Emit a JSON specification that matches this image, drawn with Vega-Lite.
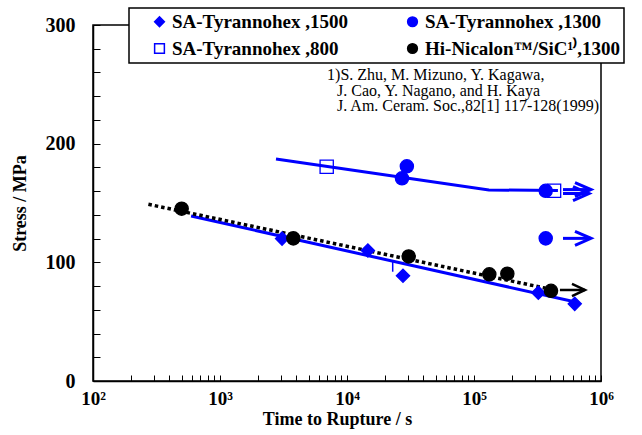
{
  "$schema": "https://vega.github.io/schema/vega-lite/v6.json",
  "width": 508,
  "height": 356,
  "autosize": {"type": "none"},
  "padding": {"left": 93, "top": 25, "right": 41, "bottom": 54},
  "background": "white",
  "config": {
    "font": "Liberation Serif",
    "view": {"stroke": "black", "strokeWidth": 1.5},
    "axis": {
      "grid": false,
      "tickColor": "black",
      "tickWidth": 1,
      "domainColor": "black",
      "domainWidth": 1.5,
      "labelFont": "Liberation Serif",
      "labelFontWeight": "bold",
      "labelColor": "black",
      "titleFont": "Liberation Serif",
      "titleFontWeight": "bold",
      "titleColor": "black",
      "labelBound": false,
      "labelFlush": false,
      "labelOverlap": false
    },
    "legend": {
      "strokeColor": "black",
      "strokeWidth": 1.5,
      "fillColor": "white",
      "padding": 4,
      "labelFont": "Liberation Serif",
      "labelFontWeight": "bold",
      "labelFontSize": 19,
      "labelColor": "black",
      "labelLimit": 400
    }
  },
  "datasets": {
    "pts": [
      {"series": "SA-Tyrannohex ,1500", "t": 3080, "s": 120},
      {"series": "SA-Tyrannohex ,1500", "t": 14600, "s": 110},
      {"series": "SA-Tyrannohex ,1500", "t": 27600, "s": 88.7},
      {"series": "SA-Tyrannohex ,1500", "t": 321000, "s": 74.4},
      {"series": "SA-Tyrannohex ,1500", "t": 621000, "s": 65},
      {"series": "SA-Tyrannohex ,1300", "t": 29600, "s": 180.9},
      {"series": "SA-Tyrannohex ,1300", "t": 27100, "s": 170.8},
      {"series": "SA-Tyrannohex ,1300", "t": 367000, "s": 160.3},
      {"series": "SA-Tyrannohex ,1300", "t": 367000, "s": 120.2},
      {"series": "SA-Tyrannohex ,800", "t": 6920, "s": 180.5},
      {"series": "SA-Tyrannohex ,800", "t": 427000, "s": 160.3},
      {"series": "Hi-Nicalon™/SiC¹⁾,1300", "t": 499, "s": 145.2},
      {"series": "Hi-Nicalon™/SiC¹⁾,1300", "t": 3780, "s": 120.2},
      {"series": "Hi-Nicalon™/SiC¹⁾,1300", "t": 30600, "s": 105},
      {"series": "Hi-Nicalon™/SiC¹⁾,1300", "t": 132000, "s": 89.9},
      {"series": "Hi-Nicalon™/SiC¹⁾,1300", "t": 183000, "s": 90.4},
      {"series": "Hi-Nicalon™/SiC¹⁾,1300", "t": 404000, "s": 76}
    ],
    "blueLines": [
      {"line": "fit1500", "t": 592, "s": 139},
      {"line": "fit1500", "t": 644000, "s": 66.3},
      {"line": "fit1300", "t": 2760, "s": 187},
      {"line": "fit1300", "t": 131000, "s": 161},
      {"line": "fit1300", "t": 458000, "s": 160.5}
    ],
    "dotLine": [
      {"t": 273, "s": 148.9},
      {"t": 362000, "s": 78.3}
    ],
    "blueArrows": [
      {"part": "a1s", "k": 1, "t": 502000, "s": 161.3},
      {"part": "a1s", "k": 2, "t": 834000, "s": 161.3},
      {"part": "a1h", "k": 1, "t": 624000, "s": 167.2},
      {"part": "a1h", "k": 2, "t": 834000, "s": 161.3},
      {"part": "a1h", "k": 3, "t": 624000, "s": 155.4},
      {"part": "a2s", "k": 1, "t": 502000, "s": 158.0},
      {"part": "a2s", "k": 2, "t": 805000, "s": 158.0},
      {"part": "a2h", "k": 1, "t": 602000, "s": 163.9},
      {"part": "a2h", "k": 2, "t": 805000, "s": 158.0},
      {"part": "a2h", "k": 3, "t": 602000, "s": 152.1},
      {"part": "a3s", "k": 1, "t": 502000, "s": 120.2},
      {"part": "a3s", "k": 2, "t": 834000, "s": 120.2},
      {"part": "a3h", "k": 1, "t": 624000, "s": 126.1},
      {"part": "a3h", "k": 2, "t": 834000, "s": 120.2},
      {"part": "a3h", "k": 3, "t": 624000, "s": 114.3}
    ],
    "blackArrow": [
      {"part": "b1s", "k": 1, "t": 475000, "s": 76.7},
      {"part": "b1s", "k": 2, "t": 748000, "s": 76.7},
      {"part": "b1h", "k": 1, "t": 591000, "s": 81.8},
      {"part": "b1h", "k": 2, "t": 748000, "s": 76.7},
      {"part": "b1h", "k": 3, "t": 591000, "s": 71.6}
    ],
    "tick": [
      {"t": 22900, "s": 101.9, "s2": 92.1}
    ],
    "notes": [
      {"t": 6970, "s": 257.8, "txt": "1)S. Zhu, M. Mizuno, Y. Kagawa,"},
      {"t": 8340, "s": 244.8, "txt": "J. Cao, Y. Nagano, and H. Kaya"},
      {"t": 8340, "s": 231.8, "txt": "J. Am. Ceram. Soc.,82[1] 117-128(1999)"}
    ]
  },
  "encoding": {
    "x": {
      "field": "t",
      "type": "quantitative",
      "scale": {"type": "log", "domain": [100, 1000000]},
      "axis": {
        "title": "Time to Rupture  / s",
        "values": [100, 200, 300, 400, 500, 600, 700, 800, 900, 1000, 2000, 3000, 4000, 5000, 6000, 7000, 8000, 9000, 10000, 20000, 30000, 40000, 50000, 60000, 70000, 80000, 90000, 100000, 200000, 300000, 400000, 500000, 600000, 700000, 800000, 900000, 1000000],
        "labelExpr": "datum.value==100?'10²':datum.value==1000?'10³':datum.value==10000?'10⁴':datum.value==100000?'10⁵':datum.value==1000000?'10⁶':''",
        "tickSize": -6,
        "labelFontSize": 19,
        "labelPadding": 14,
        "titleFontSize": 18,
        "titlePadding": 2,
        "titleX": 244
      }
    },
    "y": {
      "field": "s",
      "type": "quantitative",
      "scale": {"domain": [0, 300], "nice": false, "zero": true},
      "axis": {
        "title": "Stress / MPa",
        "values": [0, 20, 40, 60, 80, 100, 120, 140, 160, 180, 200, 220, 240, 260, 280, 300],
        "labelExpr": "datum.value % 100 == 0 ? datum.label : ''",
        "tickSize": -7,
        "labelFontSize": 20,
        "labelPadding": 25,
        "titleFontSize": 18,
        "titlePadding": 16
      }
    }
  },
  "layer": [
    {
      "data": {"name": "blueLines"},
      "mark": {"type": "line", "color": "#0000ff", "strokeWidth": 3},
      "encoding": {"detail": {"field": "line"}}
    },
    {
      "data": {"name": "dotLine"},
      "mark": {"type": "line", "color": "black", "strokeWidth": 3.5, "strokeDash": [3.5, 3], "strokeCap": "butt"},
      "encoding": {}
    },
    {
      "data": {"name": "tick"},
      "mark": {"type": "rule", "color": "#0000ff", "strokeWidth": 1.5},
      "encoding": {"y2": {"field": "s2"}}
    },
    {
      "data": {"name": "blueArrows"},
      "mark": {"type": "line", "color": "#0000ff", "strokeWidth": 3},
      "encoding": {"detail": {"field": "part"}, "order": {"field": "k"}}
    },
    {
      "data": {"name": "blackArrow"},
      "mark": {"type": "line", "color": "black", "strokeWidth": 2.5},
      "encoding": {"detail": {"field": "part"}, "order": {"field": "k"}}
    },
    {
      "data": {"name": "pts"},
      "mark": {"type": "point", "filled": true, "size": 175, "strokeWidth": 1.3, "opacity": 1},
      "encoding": {
        "shape": {
          "field": "series", "type": "nominal",
          "scale": {"domain": ["SA-Tyrannohex ,1500", "SA-Tyrannohex ,800", "SA-Tyrannohex ,1300", "Hi-Nicalon™/SiC¹⁾,1300"], "range": ["diamond", "square", "circle", "circle"]},
          "legend": {"orient": "none", "legendX": 36, "legendY": -17, "columns": 2, "title": null, "symbolSize": 95, "columnPadding": 38, "rowPadding": 7, "symbolOffset": 17, "labelOffset": 3, "labelExpr": "datum.label + '  '"}
        },
        "fill": {
          "field": "series", "type": "nominal",
          "scale": {"domain": ["SA-Tyrannohex ,1500", "SA-Tyrannohex ,800", "SA-Tyrannohex ,1300", "Hi-Nicalon™/SiC¹⁾,1300"], "range": ["#0000ff", "transparent", "#0000ff", "black"]}
        },
        "stroke": {
          "field": "series", "type": "nominal",
          "scale": {"domain": ["SA-Tyrannohex ,1500", "SA-Tyrannohex ,800", "SA-Tyrannohex ,1300", "Hi-Nicalon™/SiC¹⁾,1300"], "range": ["#0000ff", "#0000ff", "#0000ff", "black"]}
        }
      }
    },
    {
      "data": {"name": "notes"},
      "mark": {"type": "text", "align": "left", "baseline": "middle", "font": "Liberation Serif", "fontSize": 16, "color": "black"},
      "encoding": {"text": {"field": "txt"}}
    }
  ]
}
